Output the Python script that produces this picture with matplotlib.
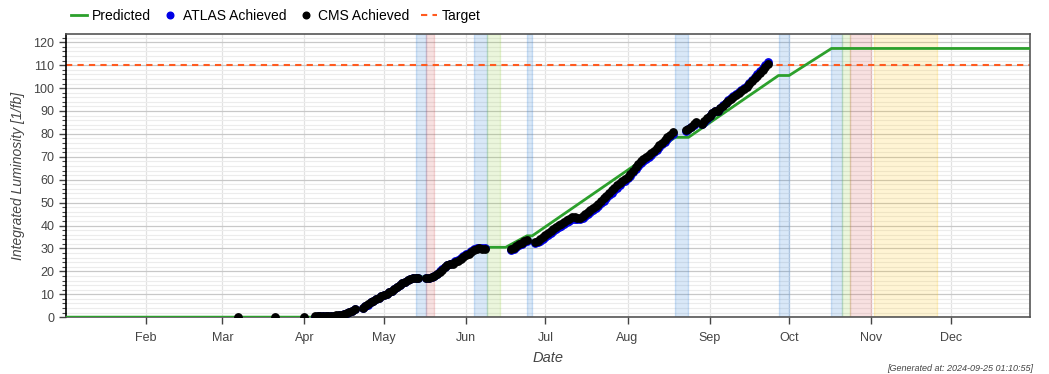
import pandas as pd
import matplotlib.pyplot as plt
import matplotlib.dates as mdates
from matplotlib.ticker import MultipleLocator

plt.rcParams["font.family"] = ["Liberation Sans", "DejaVu Sans"]

# Predicted (piecewise)
pred_dates = ["2024-01-01", "2024-04-14", "2024-04-20", "2024-04-26", "2024-05-13", "2024-05-20",
              "2024-06-04", "2024-06-16", "2024-06-24", "2024-06-26", "2024-08-19", "2024-08-24",
              "2024-09-27", "2024-10-01", "2024-10-17", "2024-12-31"]
pred_vals = [0, 0, 2.6, 5.4, 17.6, 17.6, 30.5, 30.5, 35.5, 35.5, 78.5, 78.5, 105.5, 105.5, 117.3, 117.3]

target = 110

# CMS achieved: isolated early points + daily segments (start date, values)
cms_early_dates = ["2024-03-07", "2024-03-21", "2024-04-01"]
cms_early = [0.0, 0.0, 0.1]
seg_starts = ["2024-04-05", "2024-04-23", "2024-05-17", "2024-06-18", "2024-06-27", "2024-08-23", "2024-08-29"]
cms_b1 = [0.3, 0.35, 0.4, 0.45, 0.5, 0.55, 0.6, 0.7, 0.8, 0.9, 1.1, 1.4, 1.7, 2.2, 2.9, 3.5]
cms_b2 = [4.1, 4.8, 5.6, 6.5, 7.2, 7.9, 8.5, 9.2,
          9.7, 10.3, 11.0, 11.6, 12.4, 13.2, 14.0, 14.8, 15.5, 16.2, 16.8, 17.0, 17.0, 17.1]
cms_c = [17.0, 17.1, 17.4, 17.9, 18.8, 19.8, 20.8, 21.8, 22.6, 23.0, 23.4, 24.0, 24.7, 25.5, 26.2,
         27.0, 27.7, 28.4, 29.2, 29.8, 30.0, 29.9, 29.9]
cms_d = [29.7, 30.2, 31.0, 31.8, 32.5, 33.1, 33.5]
cms_e = [32.7, 33.3, 34.1, 35.0,
         35.8, 36.6, 37.4, 38.3, 39.3, 40.1, 40.8, 41.6, 42.3, 43.0, 43.6, 43.6, 43.4, 43.5, 44.2, 45.1,
         46.0, 46.8, 47.8, 48.7, 49.6, 50.6, 51.8, 53.1, 54.2, 55.3, 56.4, 57.5, 58.6, 59.6, 60.4,
         61.4, 62.6, 64.0, 65.4, 66.9, 68.0, 68.9, 69.8, 70.8, 71.8, 72.7, 73.8, 75.0, 76.1, 77.3, 78.5,
         79.6, 80.7]
cms_f1 = [81.5, 82.3, 83.2, 84.2, 85.1]
cms_f2 = [84.4, 85.5, 86.8,
          88.0, 89.2, 89.8, 90.2, 91.2, 92.3, 93.4, 94.5, 95.4, 96.2, 97.0, 97.9, 98.7, 99.5, 100.3,
          101.6, 102.9, 104.2, 105.4, 106.6, 107.9, 109.2, 110.4]

# ATLAS achieved (same segments)
atlas_b1 = [0.2, 0.3, 0.3, 0.4, 0.4, 0.5, 0.5, 0.6, 0.7, 0.8, 1.0, 1.3, 1.6, 2.1, 2.8, 3.4]
atlas_b2 = [4.0, 4.7, 5.5, 6.4, 7.1, 7.8, 8.4, 9.1,
            9.6, 10.2, 10.9, 11.5, 12.3, 13.1, 13.9, 14.7, 15.4, 16.1, 16.7, 16.9, 17.0, 17.0]
atlas_c = [17.0, 17.1, 17.5, 18.1, 19.0, 20.0, 21.0, 22.0, 22.8, 23.2, 23.7, 24.3, 25.0, 25.8, 26.6,
           27.4, 28.2, 28.9, 29.6, 30.2, 30.3, 30.2, 30.2]
atlas_d = [29.5, 29.9, 30.6, 31.4, 32.1, 32.7, 33.1]
atlas_e = [32.2, 32.7, 33.4, 34.3,
           35.0, 35.8, 36.6, 37.5, 38.4, 39.2, 39.9, 40.7, 41.4, 42.1, 42.8, 42.9, 42.8, 42.9, 43.5, 44.3,
           45.2, 46.0, 46.9, 47.8, 48.7, 49.7, 50.9, 52.2, 53.3, 54.4, 55.5, 56.6, 57.7, 58.8, 59.6,
           60.6, 61.8, 63.2, 64.6, 66.1, 67.2, 68.1, 69.0, 70.0, 71.0, 71.9, 73.0, 74.2, 75.4, 76.6, 77.8,
           78.9, 80.1]
atlas_f1 = [81.3, 82.1, 83.0, 84.0, 84.9]
atlas_f2 = [84.2, 85.3, 86.6,
            87.9, 89.1, 89.8, 90.2, 91.3, 92.5, 93.6, 94.8, 95.7, 96.6, 97.4, 98.3, 99.2, 100.0, 100.9,
            102.2, 103.5, 104.8, 106.0, 107.3, 108.6, 109.9, 111.2]

# Shaded periods (start, end, kind)
band_starts = ["2024-05-13", "2024-05-17", "2024-06-04", "2024-06-09", "2024-06-24", "2024-08-19",
               "2024-09-27", "2024-10-17", "2024-10-21", "2024-10-24", "2024-11-02"]
band_ends = ["2024-05-17", "2024-05-20", "2024-06-09", "2024-06-14", "2024-06-26", "2024-08-24",
             "2024-10-01", "2024-10-21", "2024-10-24", "2024-11-01", "2024-11-26"]
band_kinds = ["md", "ts", "md", "sc", "md", "md", "md", "md", "sc", "ts", "ion"]

band_colors = {"md": (0.12, 0.47, 0.85), "ts": (0.84, 0.30, 0.30),
               "sc": (0.55, 0.80, 0.20), "ion": (1.0, 0.76, 0.0)}


def build(segs):
    d, v = [], []
    for start, vals in zip(seg_starts, segs):
        d.extend(pd.date_range(start, periods=len(vals), freq="D"))
        v.extend(vals)
    return d, v


cms_d_all, cms_v_all = build([cms_b1, cms_b2, cms_c, cms_d, cms_e, cms_f1, cms_f2])
cms_d_all = list(pd.to_datetime(cms_early_dates)) + cms_d_all
cms_v_all = cms_early + cms_v_all
atlas_d_all, atlas_v_all = build([atlas_b1, atlas_b2, atlas_c, atlas_d, atlas_e, atlas_f1, atlas_f2])

fig = plt.figure(figsize=(10.49, 3.74), dpi=100)
ax = fig.add_axes([0.063, 0.152, 0.919, 0.757])

for s, e, k in zip(band_starts, band_ends, band_kinds):
    c = band_colors[k]
    ax.axvspan(pd.Timestamp(s), pd.Timestamp(e), facecolor=c + (0.17,), edgecolor=c + (0.2,),
               lw=1, zorder=1)

l_pred, = ax.plot(pd.to_datetime(pred_dates), pred_vals, color="#2ca02c", lw=2, zorder=3,
                  label="Predicted")
l_atlas, = ax.plot(atlas_d_all, atlas_v_all, "o", color="#0000e6", ms=5.3, zorder=4,
                   label="ATLAS Achieved")
l_cms, = ax.plot(cms_d_all, cms_v_all, "o", color="black", ms=5.3, zorder=5, label="CMS Achieved")
l_tgt = ax.axhline(target, color="#ff5a1f", ls=(0, (3, 2.5)), lw=1.5, zorder=2, label="Target")

ax.set_xlim(pd.Timestamp("2024-01-02"), pd.Timestamp("2024-12-31"))
ax.set_ylim(0, 123.6)
ax.xaxis.set_major_locator(mdates.MonthLocator(bymonth=range(2, 13)))
ax.xaxis.set_major_formatter(mdates.DateFormatter("%b"))
ax.yaxis.set_major_locator(MultipleLocator(10))
ax.yaxis.set_minor_locator(MultipleLocator(2))

ax.grid(True, which="major", axis="y", color="#c8c8c8", lw=0.9, zorder=0)
ax.grid(True, which="minor", axis="y", color="#ececec", lw=0.8, zorder=0)
ax.grid(True, which="major", axis="x", color="#e2e2e2", lw=0.9, zorder=0)
ax.set_axisbelow(True)

for sp in ax.spines.values():
    sp.set_color("#555555")
    sp.set_linewidth(1.2)
ax.spines["left"].set_color("black")
ax.tick_params(axis="both", which="major", labelsize=9, colors="#444444", length=5, width=1)
ax.tick_params(axis="y", which="minor", length=3, width=0.8, colors="#444444")
ax.tick_params(axis="x", pad=6)

ax.set_xlabel("Date", fontsize=10.5, style="italic", color="#444444", labelpad=5)
ax.set_ylabel("Integrated Luminosity [1/fb]", fontsize=10, style="italic", color="#444444", labelpad=6)

fig.legend(handles=[l_pred, l_atlas, l_cms, l_tgt], loc="upper left", bbox_to_anchor=(0.056, 1.01),
           ncol=4, frameon=False, fontsize=10, handlelength=1.15, handletextpad=0.35,
           columnspacing=0.8, markerscale=0.9)

fig.text(0.985, 0.002, "[Generated at: 2024-09-25 01:10:55]", fontsize=6.5, style="italic",
         color="#444444", ha="right", va="bottom")

fig.savefig("out.png", dpi=100)
